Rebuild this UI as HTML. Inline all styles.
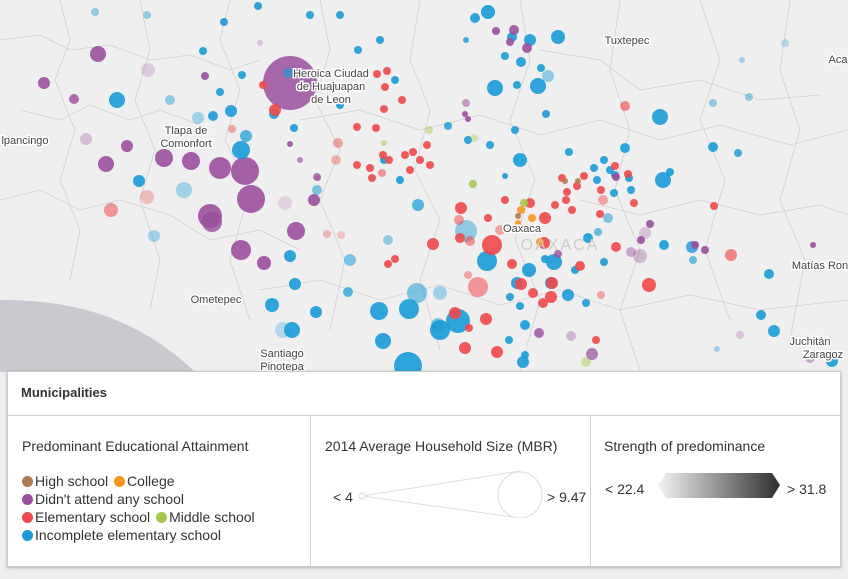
<!DOCTYPE html>
<html><head><meta charset="utf-8"><style>
body{margin:0;width:848px;height:579px;overflow:hidden;background:#d2d3d7;font-family:"Liberation Sans",sans-serif}
#map{position:absolute;left:0;top:0}
#legend{position:absolute;left:7px;top:371px;width:832px;height:194px;background:#fff;border:1px solid #c9c9c9;box-shadow:0 1px 3px rgba(0,0,0,.25);color:#333}
.hdr{position:absolute;left:13px;top:13px;font-size:13px;font-weight:bold;color:#333}
.div{position:absolute;background:#d0d0d0}
.ttl{position:absolute;top:66px;font-size:14px;color:#333}
.item{position:absolute;font-size:14px;color:#333;white-space:nowrap}
.dot{display:inline-block;width:11px;height:11px;border-radius:50%;vertical-align:-1px;margin-right:2px}
.lab{position:absolute;font-size:14px;color:#333}
</style></head><body>
<svg id="map" width="848" height="579" xmlns="http://www.w3.org/2000/svg">
<rect width="848" height="579" fill="#efefef"/>
<path d="M0,300 C60,300 130,310 195,372 L0,372 Z" fill="#c9cacf"/>
<g id="bounds" fill="none" stroke="#d0d0d0" stroke-width="0.8"></g>
<g id="dots"></g>
<g id="labels" font-size="11" fill="#444" stroke="#fff" stroke-width="3" paint-order="stroke" text-anchor="middle"></g>
</svg>
<div id="legend">
<div class="hdr">Municipalities</div>
<div class="div" style="left:0;top:43px;width:832px;height:1px"></div>
<div class="div" style="left:302px;top:44px;width:1px;height:150px"></div>
<div class="div" style="left:582px;top:44px;width:1px;height:150px"></div>
<div class="ttl" style="left:14px">Predominant Educational Attainment</div>
<div class="ttl" style="left:317px">2014 Average Household Size (MBR)</div>
<div class="ttl" style="left:596px">Strength of predominance</div>
<div class="item" style="left:14px;top:101px"><span class="dot" style="background:#b07c4e"></span>High school <span class="dot" style="background:#f7941d;margin-left:2px"></span>College</div>
<div class="item" style="left:14px;top:119px"><span class="dot" style="background:#9b4f9e"></span>Didn't attend any school</div>
<div class="item" style="left:14px;top:137px"><span class="dot" style="background:#ef4848"></span>Elementary school <span class="dot" style="background:#a5c84a;margin-left:2px"></span>Middle school</div>
<div class="item" style="left:14px;top:155px"><span class="dot" style="background:#1a9bd7"></span>Incomplete elementary school</div>
<div class="lab" style="left:325px;top:117px">&lt; 4</div>
<div class="lab" style="left:539px;top:117px">&gt; 9.47</div>
<svg style="position:absolute;left:340px;top:96px" width="200" height="50">
<path d="M14,28 L172,3 M14,28 L172,50" stroke="#ddd" fill="none"/>
<circle cx="14" cy="28" r="3" fill="#fff" stroke="#ddd"/>
<ellipse cx="172" cy="27" rx="22" ry="23" fill="#fff" stroke="#ddd"/>
</svg>
<div class="lab" style="left:597px;top:109px">&lt; 22.4</div>
<div class="lab" style="left:779px;top:109px">&gt; 31.8</div>
<svg style="position:absolute;left:650px;top:100px" width="125" height="28">
<defs><linearGradient id="g" x1="0" x2="1"><stop offset="0" stop-color="#f4f4f4"/><stop offset="1" stop-color="#2e2e2e"/></linearGradient></defs>
<path d="M0,13 L8,1 L114,1 L122,13 L114,26 L8,26 Z" fill="url(#g)"/>
</svg>
</div>
<script>
// circles: x, y, radius, category, opacity
const catColors = {P:'#9b4f9e',B:'#1a9bd7',R:'#ef4848',G:'#a5c84a',O:'#f7941d',H:'#b07c4e'};
const circles = [
[290,83,27,'P',0.95],[98,54,8,'P',1],[44,83,6,'P',1],[74,99,5,'P',0.9],[127,146,6,'P',1],[106,164,8,'P',1],[164,158,9,'P',1],[191,161,9,'P',1],[220,168,11,'P',1],[245,171,14,'P',1],[251,199,14,'P',1],[210,216,12,'P',1],[212,222,10,'P',0.9],[241,250,10,'P',1],[296,231,9,'P',1],[264,263,7,'P',1],[314,200,6,'P',1],[205,76,4,'P',1],[290,144,3,'P',1],[317,177,4,'P',0.8],[300,160,3,'P',0.7],
[86,139,6,'P',0.35],[148,70,7,'P',0.25],[285,203,7,'P',0.2],[260,43,3,'P',0.3],
[117,100,8,'B',1],[241,150,9,'B',1],[246,136,6,'B',0.8],[231,111,6,'B',1],[213,116,5,'B',1],[139,181,6,'B',1],[184,190,8,'B',0.4],[154,236,6,'B',0.4],[242,75,4,'B',1],[220,92,4,'B',1],[203,51,4,'B',1],[224,22,4,'B',1],[258,6,4,'B',1],[288,73,5,'B',0.8],[294,128,4,'B',1],[274,114,5,'B',1],[295,284,6,'B',1],[317,190,5,'B',0.6],[340,105,4,'B',1],[379,311,9,'B',1],[409,309,10,'B',1],[417,293,10,'B',0.6],[440,330,10,'B',1],[383,341,8,'B',1],[408,366,14,'B',1],[316,312,6,'B',1],[292,330,8,'B',1],[272,305,7,'B',1],[290,256,6,'B',1],[350,260,6,'B',0.6],[348,292,5,'B',0.8],[95,12,4,'B',0.5],[147,15,4,'B',0.5],[170,100,5,'B',0.5],[198,118,6,'B',0.4],[283,330,8,'B',0.3],[310,15,4,'B',1],[340,15,4,'B',1],[358,50,4,'B',1],[380,40,4,'B',1],[395,80,4,'B',1],[384,160,4,'B',1],[400,180,4,'B',1],[418,205,6,'B',0.8],[388,240,5,'B',0.5],
[458,321,12,'B',1],[487,261,10,'B',1],[466,231,11,'B',0.5],[495,88,8,'B',1],[488,12,7,'B',1],[475,18,5,'B',1],[512,37,5,'B',1],[530,40,6,'B',1],[538,86,8,'B',1],[558,37,7,'B',1],[521,62,5,'B',1],[505,56,4,'B',1],[541,68,4,'B',1],[548,76,6,'B',0.5],[517,85,4,'B',1],[546,114,4,'B',1],[515,130,4,'B',1],[520,160,7,'B',1],[468,140,4,'B',1],[490,145,4,'B',1],[448,126,4,'B',0.9],[466,40,3,'B',0.9],[505,176,3,'B',1],[569,152,4,'B',1],[594,168,4,'B',1],[604,160,4,'B',1],[610,170,4,'B',1],[615,175,4,'B',1],[597,180,4,'B',1],[614,193,4,'B',1],[629,178,4,'B',1],[631,190,4,'B',1],[660,117,8,'B',1],[663,180,8,'B',1],[670,172,4,'B',1],[692,247,6,'B',0.9],[664,245,5,'B',1],[625,148,5,'B',1],[713,103,4,'B',0.5],[713,147,5,'B',1],[693,260,4,'B',0.7],[742,60,3,'B',0.4],[769,274,5,'B',1],[761,315,5,'B',1],[774,331,6,'B',1],[749,97,4,'B',0.5],[738,153,4,'B',0.9],[717,349,3,'B',0.4],[832,361,6,'B',1],[785,43,4,'B',0.3],[588,238,5,'B',1],[604,262,4,'B',1],[568,295,6,'B',1],[586,303,4,'B',1],[575,270,4,'B',1],[545,259,4,'B',1],[554,262,8,'B',1],[529,270,7,'B',1],[551,283,6,'B',1],[517,283,6,'B',1],[510,297,4,'B',1],[520,306,4,'B',1],[525,325,5,'B',1],[509,340,4,'B',1],[525,355,4,'B',1],[523,362,6,'B',1],[438,325,7,'B',0.6],[440,293,7,'B',0.4],[598,232,4,'B',0.7],[608,218,5,'B',0.6],
[433,244,6,'R',1],[461,208,6,'R',1],[459,220,5,'R',0.6],[492,245,10,'R',1],[478,287,10,'R',0.6],[486,319,6,'R',1],[521,284,6,'R',1],[551,297,6,'R',1],[552,283,6,'R',1],[533,293,5,'R',1],[544,243,6,'R',1],[580,266,5,'R',1],[616,247,5,'R',1],[731,255,6,'R',0.7],[625,106,5,'R',0.7],[402,100,4,'R',1],[384,109,4,'R',1],[275,110,6,'R',1],[263,85,4,'R',1],[232,129,4,'R',0.5],[111,210,7,'R',0.6],[147,197,7,'R',0.35],[387,71,4,'R',1],[377,74,4,'R',1],[385,87,4,'R',1],[357,127,4,'R',1],[376,128,4,'R',1],[338,143,5,'R',0.5],[336,160,5,'R',0.4],[357,165,4,'R',1],[372,178,4,'R',1],[370,168,4,'R',1],[382,173,4,'R',0.6],[389,160,4,'R',1],[383,155,4,'R',1],[405,155,4,'R',1],[413,152,4,'R',1],[420,160,4,'R',1],[410,170,4,'R',1],[430,165,4,'R',1],[427,145,4,'R',1],[395,259,4,'R',1],[388,264,4,'R',1],[327,234,4,'R',0.4],[341,235,4,'R',0.3],[460,238,5,'R',1],[488,218,4,'R',1],[505,200,4,'R',1],[530,203,5,'R',1],[545,218,6,'R',1],[555,205,4,'R',1],[562,178,4,'R',1],[567,192,4,'R',1],[577,186,4,'R',1],[584,176,4,'R',1],[601,190,4,'R',1],[603,200,5,'R',0.5],[634,203,4,'R',1],[628,174,4,'R',1],[566,200,4,'R',1],[572,210,4,'R',1],[600,214,4,'R',1],[615,166,4,'R',1],[470,241,5,'R',0.6],[500,230,5,'R',0.5],[601,295,4,'R',0.5],[649,285,7,'R',1],[543,303,5,'R',1],[512,264,5,'R',1],[596,340,4,'R',1],[468,275,4,'R',0.5],[497,352,6,'R',1],[455,313,6,'R',1],[465,348,6,'R',1],[714,206,4,'R',1],[469,328,4,'R',1],
[429,130,4,'G',0.5],[473,184,4,'G',1],[524,203,4,'G',1],[384,143,3,'G',0.6],[586,362,5,'G',0.5],[474,138,4,'G',0.4],
[521,210,4,'O',1],[532,218,4,'O',1],[540,242,4,'O',1],[530,229,4,'O',1],[518,223,3,'O',1],
[565,181,3,'H',1],[578,181,3,'H',1],[518,216,3,'H',1],
[640,256,7,'P',0.4],[645,233,6,'P',0.3],[650,224,4,'P',1],[641,240,4,'P',1],[631,252,5,'P',0.5],[592,354,6,'P',0.8],[539,333,5,'P',0.9],[571,336,5,'P',0.4],[558,254,4,'P',0.9],[616,177,4,'P',1],[496,31,4,'P',1],[514,30,5,'P',1],[527,48,5,'P',1],[510,42,4,'P',1],[465,114,3,'P',1],[468,119,3,'P',1],[466,103,4,'P',0.6],[813,245,3,'P',1],[695,245,4,'P',1],[705,250,4,'P',1],[740,335,4,'P',0.3],[810,358,5,'P',0.5],[318,178,3,'P',0.6]
];
const dots = document.getElementById('dots');
circles.forEach(c => {
  const e = document.createElementNS('http://www.w3.org/2000/svg','circle');
  e.setAttribute('cx', c[0]); e.setAttribute('cy', c[1]); e.setAttribute('r', c[2]);
  e.setAttribute('fill', catColors[c[3]]); e.setAttribute('fill-opacity', c[4]*0.9);
  
  
  dots.appendChild(e);
});
const bounds = document.getElementById('bounds');
const bpaths = [
"M0,40 L40,35 L70,50 L110,45 L150,60 L190,55 L230,70 L260,60","M20,110 L60,120 L90,105 L130,120 L160,110 L200,125","M0,200 L40,190 L80,210 L120,200 L170,215 L210,240 L260,230 L300,250",
"M60,0 L70,40 L55,80 L75,130 L60,180 L80,230 L70,280","M140,0 L150,50 L135,100 L155,150 L140,200 L160,260 L150,310","M230,0 L220,40 L240,90 L225,140 L250,190 L230,260 L250,320",
"M320,0 L330,50 L315,100 L340,150 L320,200 L345,260 L330,330","M420,0 L410,60 L430,110 L415,170 L440,220 L420,280 L440,350","M520,0 L530,60 L510,120 L535,180 L515,240 L540,300 L520,370",
"M620,0 L610,70 L630,130 L615,190 L640,250 L620,310 L640,370","M700,0 L720,60 L700,120 L725,180 L705,250 L730,320","M790,0 L780,70 L800,130 L780,200 L805,260 L790,340",
"M300,120 L360,110 L420,130 L480,115 L540,135 L600,120 L660,140 L720,125 L790,145 L848,130","M260,290 L320,280 L380,300 L440,285 L500,305 L560,290 L620,310 L690,295 L760,310 L848,300",
"M540,50 L600,60 L640,90 L700,80 L760,100 L820,95","M580,200 L640,215 L700,200 L760,215 L820,205 L848,215"
];
bpaths.forEach(d => { const p = document.createElementNS('http://www.w3.org/2000/svg','path'); p.setAttribute('d', d);
  
  
  bounds.appendChild(p); });
const labels = [
['Heroica Ciudad',331,77],['de Huajuapan',331,90],['de Leon',331,103],['Tlapa de',186,134],['Comonfort',186,147],['lpancingo',25,144],['Ometepec',216,303],
['Santiago',282,357],['Pinotepa',282,370],['Tuxtepec',627,44],['Oaxaca',522,232],['Matías Ron',820,269],['Juchitán',810,345],['Zaragoz',823,358],['Aca',838,63]
];
const lg = document.getElementById('labels');
labels.forEach(l => { const t = document.createElementNS('http://www.w3.org/2000/svg','text');
  t.setAttribute('x', l[1]); t.setAttribute('y', l[2]); t.textContent = l[0];
  
  
  lg.appendChild(t); });
const st = document.createElementNS('http://www.w3.org/2000/svg','text');
st.setAttribute('x', 560); st.setAttribute('y', 250); st.setAttribute('font-size', 16); st.setAttribute('fill', '#ccc'); st.setAttribute('stroke', 'none'); st.setAttribute('letter-spacing', '2');
st.textContent = 'OAXACA';


lg.appendChild(st);
</script>
</body></html>
